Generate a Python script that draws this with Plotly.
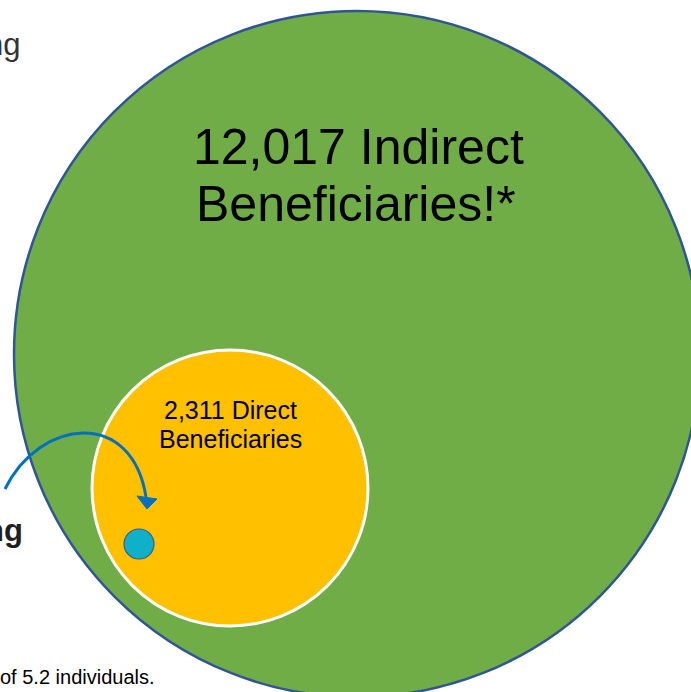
import plotly.graph_objects as go

# ---- data ----
categories = ["Indirect Beneficiaries", "Direct Beneficiaries"]
values = [12017, 2311]
side_texts = ["ng", "ng"]
footnote = "of 5.2 individuals."

W, H = 691, 692
FONT = "Liberation Sans, Arial, sans-serif"

fig = go.Figure()
fig.add_trace(go.Scatter(x=[0, W], y=[0, H], mode="markers",
                         marker=dict(opacity=0), hoverinfo="skip", showlegend=False))

shapes = []
# indirect (large green) circle
gc, gr = (357, 354), 343
shapes.append(dict(type="circle", xref="x", yref="y",
                   x0=gc[0]-gr, x1=gc[0]+gr, y0=gc[1]-gr, y1=gc[1]+gr,
                   fillcolor="#70AD47", line=dict(color="#2F5597", width=2.5)))
# direct (yellow) circle
yc, yr = (230, 488), 138
shapes.append(dict(type="circle", xref="x", yref="y",
                   x0=yc[0]-yr, x1=yc[0]+yr, y0=yc[1]-yr, y1=yc[1]+yr,
                   fillcolor="#FFC000", line=dict(color="white", width=3)))
# small teal circle
tc, tr = (139, 544), 15
shapes.append(dict(type="circle", xref="x", yref="y",
                   x0=tc[0]-tr, x1=tc[0]+tr, y0=tc[1]-tr, y1=tc[1]+tr,
                   fillcolor="#0FB0C8", line=dict(color="#3F5A8C", width=1.2)))
# curved arrow
shapes.append(dict(type="path", xref="x", yref="y",
                   path="M 5 489 C 40 418, 132 408, 146 497",
                   line=dict(color="#0070C0", width=3)))
shapes.append(dict(type="path", xref="x", yref="y",
                   path="M 137 496 L 157 499 L 147 509 Z",
                   fillcolor="#0070C0", line=dict(color="#0070C0", width=1)))

annotations = [
    dict(x=358, y=147, text=f"{values[0]:,} Indirect", font=dict(size=50, color="black", family=FONT)),
    dict(x=356, y=204, text="Beneficiaries!*", font=dict(size=50, color="black", family=FONT)),
    dict(x=230, y=410, text=f"{values[1]:,} Direct", font=dict(size=25, color="black", family=FONT)),
    dict(x=230, y=439, text="Beneficiaries", font=dict(size=25, color="black", family=FONT)),
    dict(x=22, y=44, text=side_texts[0], xanchor="right", font=dict(size=31, color="#333333", family=FONT)),
    dict(x=25, y=530, text=f"<b>{side_texts[1]}</b>", xanchor="right", font=dict(size=31, color="#1F1F1F", family=FONT)),
    dict(x=157, y=677, text=footnote, xanchor="right", font=dict(size=20, color="black", family=FONT)),
]
for a in annotations:
    a.setdefault("xanchor", "center")
    a.update(xref="x", yref="y", showarrow=False, yanchor="middle")

fig.update_layout(
    width=W, height=H, margin=dict(l=0, r=0, t=0, b=0),
    paper_bgcolor="white", plot_bgcolor="white",
    xaxis=dict(range=[0, W], visible=False, fixedrange=True),
    yaxis=dict(range=[H, 0], visible=False, fixedrange=True),
    shapes=shapes, annotations=annotations, showlegend=False,
)
fig.write_html("out.html")
